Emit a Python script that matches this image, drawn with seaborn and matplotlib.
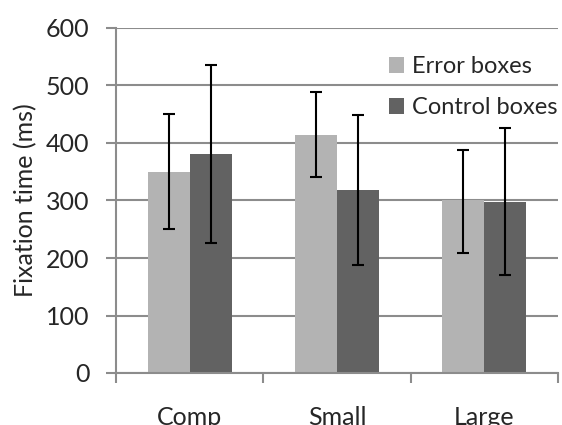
import matplotlib
matplotlib.use("Agg")
import matplotlib.pyplot as plt
import seaborn as sns
import pandas as pd
import numpy as np

categories = ["Comp", "Small", "Large"]
series = ["Error boxes", "Control boxes"]
error_means = [350, 414, 300]
control_means = [381, 318, 297]
error_low = [250, 340, 209]
error_high = [451, 489, 388]
control_low = [226, 187, 170]
control_high = [536, 449, 426]
yticks = [0, 100, 200, 300, 400, 500, 600]

df = pd.DataFrame({
    "cat": categories * 2,
    "series": [series[0]] * 3 + [series[1]] * 3,
    "val": error_means + control_means,
    "lo": error_low + control_low,
    "hi": error_high + control_high,
})

sns.set_style("white")
plt.rcParams["font.family"] = ["Lato", "DejaVu Sans"]

fig = plt.figure(figsize=(5.62, 4.25), dpi=100)
ax = fig.add_axes([116 / 562, 1 - 373 / 425, (558 - 116) / 562, (373 - 28) / 425])

palette = {series[0]: "#b3b3b3", series[1]: "#626262"}
sns.barplot(data=df, x="cat", y="val", hue="series", order=categories,
            hue_order=series, palette=palette, width=0.57, gap=0,
            errorbar=None, saturation=1, ax=ax, zorder=2, linewidth=0)

# error bars at bar centers
for patch_group, s in zip(ax.containers, series):
    sub = df[df["series"] == s].set_index("cat").loc[categories]
    for bar, (_, row) in zip(patch_group, sub.iterrows()):
        xc = bar.get_x() + bar.get_width() / 2
        ax.errorbar([xc], [row["val"]],
                    yerr=[[row["val"] - row["lo"]], [row["hi"] - row["val"]]],
                    fmt="none", ecolor="black", elinewidth=1.5, capsize=4.5,
                    capthick=1.5, zorder=3)

ax.set_xlim(-0.5, 2.5)
ax.set_ylim(0, 600)
ax.set_yticks(yticks)
ax.yaxis.grid(True, color="#8c8c8c", linewidth=1.5, zorder=0)
ax.set_axisbelow(True)
for sp in ["top", "right"]:
    ax.spines[sp].set_visible(False)
ax.spines["left"].set_color("#8c8c8c")
ax.spines["left"].set_linewidth(1.5)
ax.spines["bottom"].set_color("#8c8c8c")
ax.spines["bottom"].set_linewidth(1.5)

ax.tick_params(axis="y", length=7, width=1.5, color="#8c8c8c",
               labelsize=18, pad=12, left=True)
ax.set_xticks([0, 1, 2])
ax.set_xticklabels(categories)
ax.set_xticks([-0.5, 0.5, 1.5, 2.5], minor=True)
ax.tick_params(axis="x", which="major", length=0, labelsize=18, pad=24)
ax.tick_params(axis="x", which="minor", length=7, width=1.5,
               color="#8c8c8c", bottom=True, direction="out")

ax.set_xlabel("")
ax.set_ylabel("Fixation time (ms)", fontsize=18, labelpad=6)

handles, labels = ax.get_legend_handles_labels()
ax.legend(handles, labels, loc="upper right", bbox_to_anchor=(1.02, 0.946),
          frameon=False, fontsize=17, handlelength=0.66, handleheight=0.66,
          handletextpad=0.32, labelspacing=0.85, borderaxespad=0)

fig.savefig("out.png", dpi=100)
